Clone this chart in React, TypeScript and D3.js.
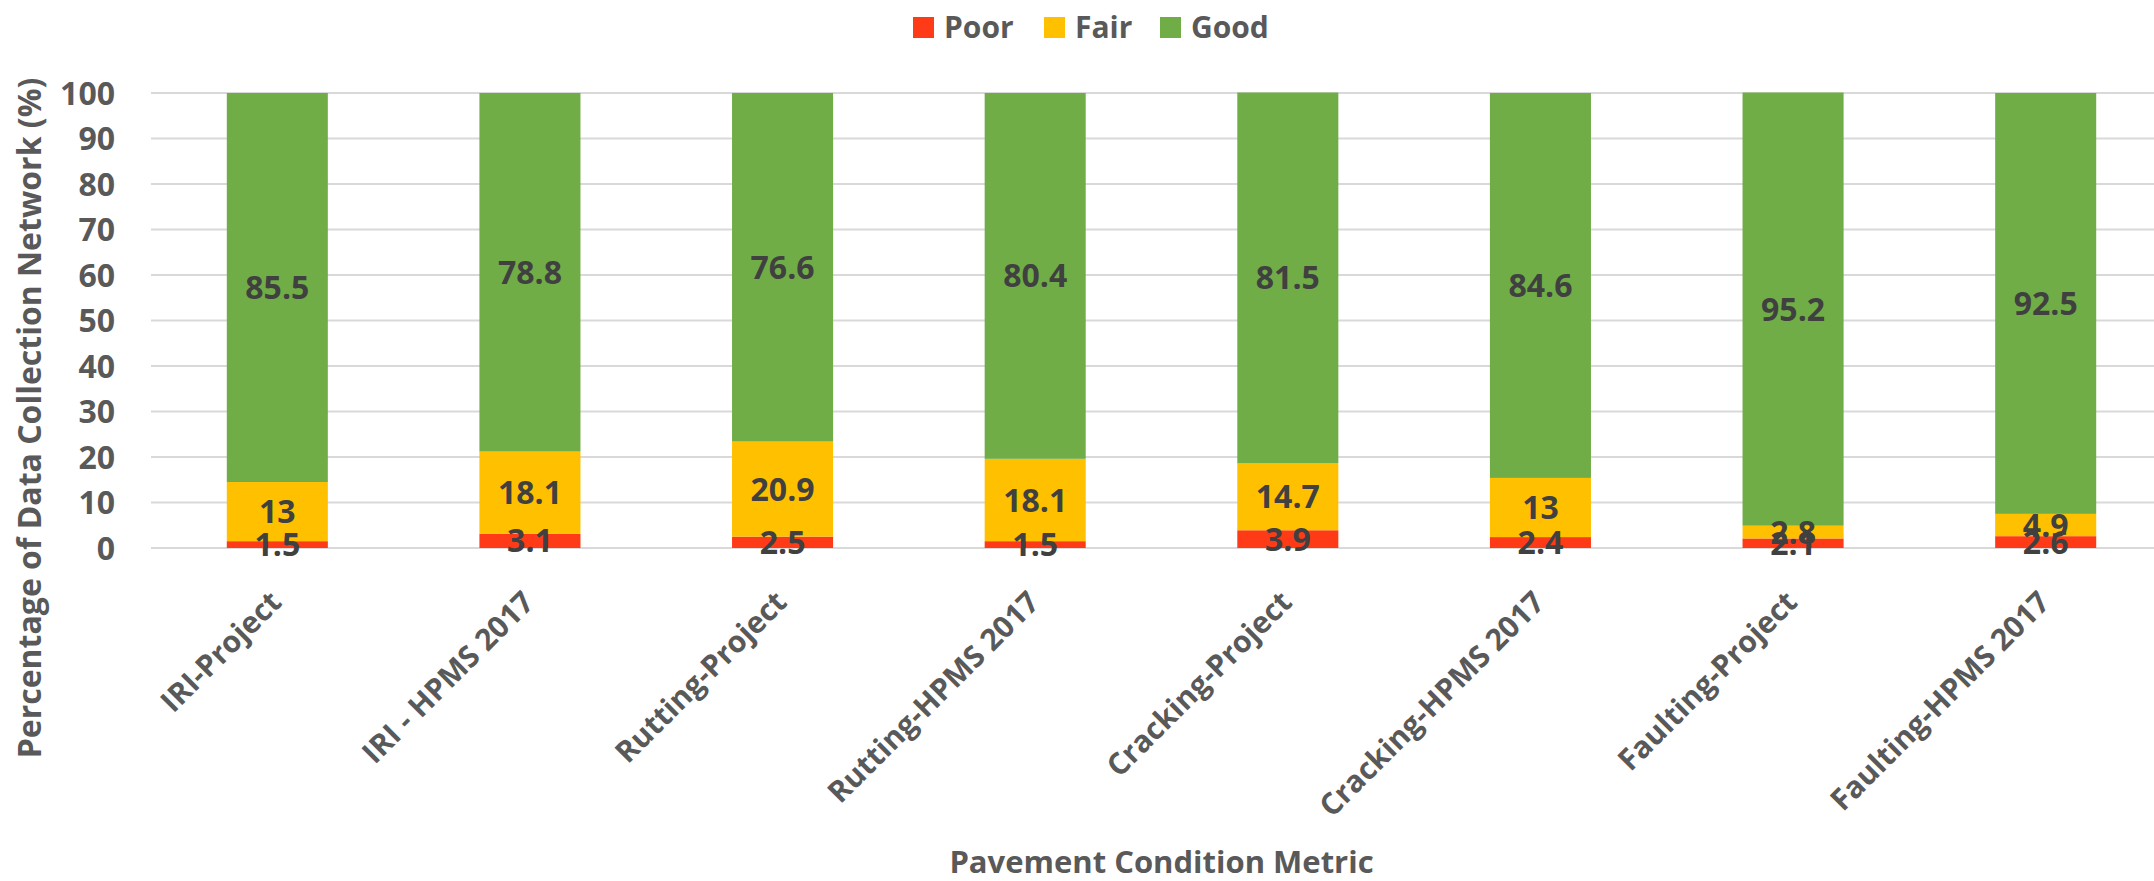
import React from "react";
import * as d3 from "d3";

// Pavement condition shares (%) per metric and source
const categories = [
  "IRI-Project",
  "IRI - HPMS 2017",
  "Rutting-Project",
  "Rutting-HPMS 2017",
  "Cracking-Project",
  "Cracking-HPMS 2017",
  "Faulting-Project",
  "Faulting-HPMS 2017",
];
const poorValues = [1.5, 3.1, 2.5, 1.5, 3.9, 2.4, 2.1, 2.6];
const fairValues = [13, 18.1, 20.9, 18.1, 14.7, 13, 2.8, 4.9];
const goodValues = [85.5, 78.8, 76.6, 80.4, 81.5, 84.6, 95.2, 92.5];
const seriesNames = ["Poor", "Fair", "Good"];
const yTicks = [0, 10, 20, 30, 40, 50, 60, 70, 80, 90, 100];

const COLORS: Record<string, string> = {
  Poor: "#FF3B17",
  Fair: "#FFC000",
  Good: "#70AD47",
};

const W = 2154;
const H = 881;
const FONT = "'Open Sans', 'DejaVu Sans', sans-serif";

export default function App() {
  const rows = categories.map((c, i) => ({
    category: c,
    Poor: poorValues[i],
    Fair: fairValues[i],
    Good: goodValues[i],
  }));
  const stack = d3.stack<any>().keys(seriesNames)(rows);

  const plotLeft = 151;
  const plotRight = 2172;
  const x = d3
    .scaleBand<string>()
    .domain(categories)
    .range([plotLeft, plotRight])
    .paddingInner(0.6)
    .paddingOuter(0.3);
  const y = d3.scaleLinear().domain([0, 100]).range([548, 93]);

  const legendItems = [
    { name: "Poor", sx: 913, tx: 944 },
    { name: "Fair", sx: 1044, tx: 1075 },
    { name: "Good", sx: 1160, tx: 1191 },
  ];

  return (
    <svg
      width={W}
      height={H}
      style={{ position: "absolute", left: 0, top: 0, background: "#fff" }}
      fontFamily={FONT}
    >
      {/* legend */}
      {legendItems.map((l) => (
        <g key={l.name}>
          <rect x={l.sx} y={17} width={21} height={21} fill={COLORS[l.name]} />
          <text x={l.tx} y={38} fontSize={30} fontWeight={700} fill="#595959">
            {l.name}
          </text>
        </g>
      ))}

      {/* gridlines */}
      {yTicks.map((t) => (
        <line
          key={t}
          x1={plotLeft}
          x2={W}
          y1={y(t)}
          y2={y(t)}
          stroke="#D9D9D9"
          strokeWidth={2}
        />
      ))}

      {/* y tick labels */}
      {yTicks.map((t) => (
        <text
          key={t}
          x={115}
          y={y(t)}
          dy="0.36em"
          textAnchor="end"
          fontSize={32}
          fontWeight={700}
          fill="#595959"
        >
          {t}
        </text>
      ))}

      {/* stacked bars */}
      {stack.map((s) => (
        <g key={s.key} fill={COLORS[s.key]}>
          {s.map((d, i) => (
            <rect
              key={i}
              x={x(categories[i])}
              width={x.bandwidth()}
              y={y(d[1])}
              height={y(d[0]) - y(d[1])}
            />
          ))}
        </g>
      ))}

      {/* data labels */}
      {stack.map((s) => (
        <g key={s.key}>
          {s.map((d, i) => (
            <text
              key={i}
              x={(x(categories[i]) as number) + x.bandwidth() / 2}
              y={y((d[0] + d[1]) / 2)}
              dy="0.36em"
              textAnchor="middle"
              fontSize={32}
              fontWeight={700}
              fill="#404040"
            >
              {String(d.data[s.key])}
            </text>
          ))}
        </g>
      ))}

      {/* category labels */}
      {categories.map((c) => (
        <text
          key={c}
          transform={`translate(${(x(c) as number) + x.bandwidth() / 2 + 6},${604}) rotate(-45)`}
          textAnchor="end"
          fontSize={30}
          fontWeight={700}
          fill="#595959"
        >
          {c}
        </text>
      ))}

      {/* axis titles */}
      <text
        transform={`translate(41,418) rotate(-90)`}
        textAnchor="middle"
        fontSize={32}
        fontWeight={700}
        fill="#595959"
      >
        Percentage of Data Collection Network (%)
      </text>
      <text
        x={(plotLeft + plotRight) / 2}
        y={873}
        textAnchor="middle"
        fontSize={31}
        fontWeight={700}
        fill="#595959"
      >
        Pavement Condition Metric
      </text>
    </svg>
  );
}
